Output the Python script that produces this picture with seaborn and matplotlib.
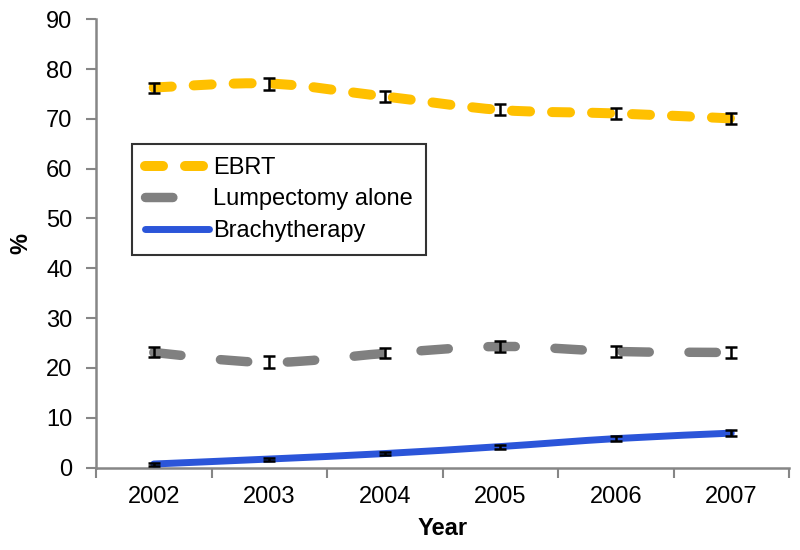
import numpy as np
import matplotlib
matplotlib.use("Agg")
import matplotlib.pyplot as plt
from matplotlib.path import Path
from matplotlib.patches import PathPatch
from matplotlib.lines import Line2D
import seaborn as sns

years = ["2002", "2003", "2004", "2005", "2006", "2007"]
ebrt = [76.3, 77.1, 74.5, 71.8, 71.1, 70.1]
ebrt_err = [1.0, 1.2, 1.1, 1.1, 1.1, 1.1]
lumpectomy = [23.1, 21.1, 22.9, 24.3, 23.3, 23.1]
lumpectomy_err = [1.0, 1.2, 1.0, 1.1, 1.1, 1.1]
brachy = [0.7, 1.7, 2.8, 4.2, 5.8, 6.9]
brachy_err = [0.3, 0.3, 0.3, 0.4, 0.5, 0.6]

sns.set_theme(style="white")
plt.rcParams["font.family"] = ["Liberation Sans", "DejaVu Sans"]
plt.rcParams["font.size"] = 17
plt.rcParams["text.color"] = "black"
plt.rcParams["xtick.labelcolor"] = "black"
plt.rcParams["ytick.labelcolor"] = "black"
plt.rcParams["axes.labelcolor"] = "black"

fig = plt.figure(figsize=(8, 5.5), dpi=100)
ax = fig.add_axes([96 / 800, 1 - 467.5 / 550, (789 - 96) / 800, (467.5 - 19.3) / 550])

axis_grey = "#868686"


def smooth_path(xs, ys):
    # Excel-style smoothed line: cubic Bezier through every point
    pts = np.column_stack([xs, ys]).astype(float)
    verts = [pts[0]]
    codes = [Path.MOVETO]
    n = len(pts)
    for i in range(n - 1):
        p0 = pts[max(i - 1, 0)]
        p1 = pts[i]
        p2 = pts[i + 1]
        p3 = pts[min(i + 2, n - 1)]
        verts += [p1 + (p2 - p0) / 6, p2 - (p3 - p1) / 6, p2]
        codes += [Path.CURVE4] * 3
    return Path(verts, codes)


x = np.arange(len(years))
series = [
    ("EBRT", ebrt, ebrt_err, "#FFC000", 7.2, (0, (1.8, 2.2))),
    ("Lumpectomy alone", lumpectomy, lumpectomy_err, "#808080", 6.8, (0, (2.9, 4.2))),
    ("Brachytherapy", brachy, brachy_err, "#2B55D9", 5.0, "solid"),
]

handles = []
for label, vals, err, color, lw, ls in series:
    patch = PathPatch(smooth_path(x, vals), fill=False, edgecolor=color,
                      linewidth=lw, linestyle=ls, capstyle="round", zorder=3)
    ax.add_patch(patch)
    ax.errorbar(x, vals, yerr=err, fmt="none", ecolor="black",
                elinewidth=1.8, capsize=4, capthick=1.8, zorder=4)
    h = Line2D([], [], color=color, linewidth=lw, linestyle=ls,
               dash_capstyle="round", solid_capstyle="round")
    handles.append(h)

ax.set_xlim(-0.5, len(years) - 0.5)
ax.set_ylim(0, 90)
ax.set_yticks(np.arange(0, 91, 10))
ax.set_xticks(np.arange(-0.5, len(years), 1.0))
ax.set_xticklabels([])
ax.set_xticks(x, minor=True)
ax.set_xticklabels(years, minor=True)

ax.tick_params(axis="y", which="major", direction="out", length=7, width=1.5,
               color=axis_grey, labelsize=17, pad=10, left=True)
ax.tick_params(axis="x", which="major", direction="out", length=7, width=1.5,
               color=axis_grey, bottom=True)
ax.tick_params(axis="x", which="minor", length=0, labelsize=17, pad=13)

for side in ["top", "right"]:
    ax.spines[side].set_visible(False)
for side in ["left", "bottom"]:
    ax.spines[side].set_color(axis_grey)
    ax.spines[side].set_linewidth(1.8)

ax.set_xlabel("Year", fontsize=17, fontweight="bold", labelpad=7)
ax.set_ylabel("%", fontsize=17, fontweight="bold", labelpad=10)

leg = ax.legend(handles, [s[0] for s in series], loc="upper left",
                bbox_to_anchor=((132 - 96) / 693, (467.5 - 144) / 448.2),
                borderaxespad=0, fontsize=17, handlelength=2.7,
                handletextpad=0.2, labelspacing=0.4, borderpad=0.55,
                fancybox=False, frameon=True)
leg.get_frame().set_edgecolor("black")
leg.get_frame().set_linewidth(1.5)

fig.savefig("out.png", dpi=100)
